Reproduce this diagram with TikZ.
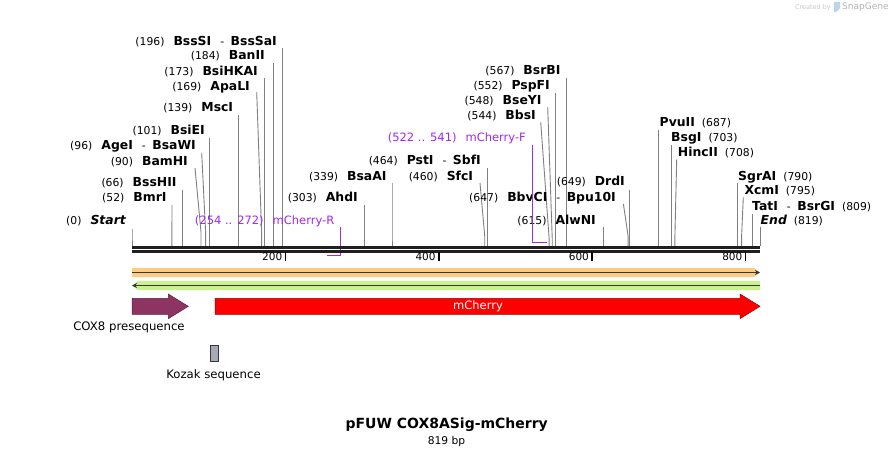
\documentclass[tikz,border=0pt]{standalone}
\usepackage{fontspec}
\setmainfont{DejaVu Sans}
\usetikzlibrary{arrows.meta}
\definecolor{prim}{RGB}{160,40,240}
\definecolor{orab}{RGB}{252,204,128}
\definecolor{grnb}{RGB}{200,242,140}
\definecolor{darkl}{RGB}{55,55,55}
\definecolor{cox}{RGB}{142,52,98}
\definecolor{coxd}{RGB}{90,30,60}
\definecolor{koz}{RGB}{165,170,182}
\definecolor{sitec}{RGB}{128,128,128}
\definecolor{wm}{RGB}{200,200,200}
\definecolor{wmb}{RGB}{185,212,240}
\newcommand\nm[1]{{\fontsize{12.4}{13}\selectfont\bfseries #1}}
\newcommand\nmi[1]{{\fontsize{12.4}{13}\selectfont\bfseries\itshape #1}}
\newcommand\gp{\hspace{9pt}}
\newcommand\gr{\hspace{7pt}}
\newcommand\dsh{\hspace{9pt}-\hspace{6.5pt}}
\newcommand\enz[9]{%
  \node[lbl,anchor=#2] (#1) at (#3,#4) {#5};
  \coordinate (#1t) at (#6,#7);
  \coordinate (#1k) at (#9,#8);
  \coordinate (#1b) at (#9,246);
  \draw[site] (#1t) -- (#1k) -- (#1b);
}
\begin{document}
\begin{tikzpicture}[x=1pt,y=-1pt,
  lbl/.style={inner sep=0pt, font=\fontsize{10.8}{12}\selectfont},
  site/.style={draw=sitec, line width=0.9pt},
  tick/.style={draw=black, line width=1.4pt},
  ticklbl/.style={inner sep=0pt, anchor=mid east, font=\fontsize{10.5}{12}\selectfont},
  primlbl/.style={inner sep=0pt, text=prim, font=\fontsize{11.5}{13}\selectfont},
  primline/.style={draw=prim, line width=1.6pt},
  featlbl/.style={inner sep=0pt, font=\fontsize{11.7}{13}\selectfont}]
\useasboundingbox (0,0) rectangle (893,456);
\fill[white] (0,0) rectangle (893,456);

% watermark
\node[inner sep=0pt, anchor=mid east, text=wm, font=\fontsize{6.5}{8}\selectfont] (wm1) at (831,7) {Created by};
\fill[wmb] (834,2) -- (840,2) -- (840,8) -- (836,12) -- (834,12) -- cycle;
\node[inner sep=0pt, anchor=mid west, text=wm!90!black, font=\fontsize{9}{10}\selectfont] (wm2) at (842,7) {SnapGene};

% enzyme sites
\enz{start}{mid east}{126}{221.5}{(0)\gp\nmi{Start}}{132}{229}{236}{132}
\enz{bmrI}{mid east}{166.7}{199}{(52)\gp\nm{BmrI}}{172}{205}{236}{171.9}
\enz{bssHII}{mid east}{176.7}{183.3}{(66)\gp\nm{BssHII}}{182.6}{190}{236}{182.6}
\enz{bamHI}{mid east}{188}{162.3}{(90)\gp\nm{BamHI}}{195}{168}{232}{201}
\enz{ageI}{mid east}{196}{146.7}{(96)\gp\nm{AgeI}\dsh\nm{BsaWI}}{201.7}{153}{232}{205.6}
\enz{bsiEI}{mid east}{205}{131.7}{(101)\gp\nm{BsiEI}}{209.4}{138}{236}{209.4}
\enz{mscI}{mid east}{233.3}{109}{(139)\gp\nm{MscI}}{238.6}{115}{236}{238.6}
\enz{apaLI}{mid east}{250}{87.3}{(169)\gp\nm{ApaLI}}{256.7}{92}{232}{261.6}
\enz{bsiHKAI}{mid east}{258}{72.3}{(173)\gp\nm{BsiHKAI}}{264.7}{78}{236}{264.7}
\enz{banII}{mid east}{265}{56.7}{(184)\gp\nm{BanII}}{273.1}{63}{236}{273.1}
\enz{bssSI}{mid east}{277}{42.3}{(196)\gp\nm{BssSI}\dsh\nm{BssSaI}}{282.3}{48}{236}{282.3}
\enz{ahdI}{mid east}{358}{198.3}{(303)\gp\nm{AhdI}}{364.3}{205}{236}{364.3}
\enz{bsaAI}{mid east}{386.7}{177.3}{(339)\gp\nm{BsaAI}}{392}{183}{236}{392}
\enz{sfcI}{mid east}{473.3}{177.3}{(460)\gp\nm{SfcI}}{480}{183}{236}{484.7}
\enz{pstI}{mid east}{481}{161.7}{(464)\gp\nm{PstI}\dsh\nm{SbfI}}{487.8}{168}{236}{487.8}
\enz{bbsI}{mid east}{536}{116.7}{(544)\gp\nm{BbsI}}{540.7}{122}{238}{549.1}
\enz{bseYI}{mid east}{541.7}{101.7}{(548)\gp\nm{BseYI}}{547.7}{107}{238}{552.2}
\enz{pspFI}{mid east}{550}{86.7}{(552)\gp\nm{PspFI}}{555.3}{93}{236}{555.3}
\enz{bsrBI}{mid east}{560.7}{71.7}{(567)\gp\nm{BsrBI}}{566.8}{78}{236}{566.8}
\enz{alwNI}{mid east}{596}{221.7}{(615)\gp\nm{AlwNI}}{603.6}{227}{236}{603.6}
\enz{bbvCI}{mid east}{616}{198.3}{(647)\gp\nm{BbvCI}\dsh\nm{Bpu10I}}{623.4}{204}{236}{628.1}
\enz{drdI}{mid east}{625}{182.7}{(649)\gp\nm{DrdI}}{629.6}{190}{236}{629.6}
\enz{pvuII}{mid west}{659.5}{124}{\nm{PvuII}\gr(687)}{658.8}{130}{236}{658.8}
\enz{bsgI}{mid west}{671}{139}{\nm{BsgI}\gr(703)}{671}{145}{236}{671}
\enz{hincII}{mid west}{677.7}{153.3}{\nm{HincII}\gr(708)}{676.7}{159.3}{236}{674.9}
\enz{sgrAI}{mid west}{738}{177.7}{\nm{SgrAI}\gr(790)}{737.8}{183}{236}{737.8}
\enz{xcmI}{mid west}{744.3}{191.7}{\nm{XcmI}\gr(795)}{743.3}{197.3}{236}{741.6}
\enz{tatI}{mid west}{752}{207.3}{\nm{TatI}\dsh\nm{BsrGI}\gr(809)}{752.4}{214}{236}{752.4}
\enz{end}{mid west}{760.5}{221.7}{\nmi{End}\gr(819)}{760}{227}{236}{760}

% primers
\node[primlbl, anchor=mid east] (pR) at (334.5,221.5) {(254 .. 272)\gp mCherry-R};
\coordinate (pRt) at (340.6,227);
\coordinate (pRc) at (340.6,255.5);
\coordinate (pRe) at (326.8,255.5);
\draw[primline] (pRt) -- (pRc) -- (pRe);
\node[primlbl, anchor=mid east] (pF) at (526,138.5) {(522 .. 541)\gp mCherry-F};
\coordinate (pFt) at (532.3,145);
\coordinate (pFc) at (532.3,242.5);
\coordinate (pFe) at (546.8,242.5);
\draw[primline] (pFt) -- (pFc) -- (pFe);

% sequence bar
\coordinate (b0) at (132,247.5);
\coordinate (b1) at (760,247.5);
\coordinate (c0) at (132,251.4);
\coordinate (c1) at (760,251.4);
\draw[line width=3.4pt, black!88] (b0) -- (b1);
\draw[line width=2.4pt, black!88] (c0) -- (c1);

% ruler
\foreach \v/\x in {200/285.4,400/438.8,600/592.1,800/745.5}{
  \coordinate (tk\v) at (\x,252);
  \coordinate (tkb\v) at (\x,261);
  \draw[tick] (tk\v) -- (tkb\v);
  \node[ticklbl] (tl\v) at (\x-3,257.5) {\v};
}

% orange (forward) strand
\coordinate (o0) at (132,272.5);
\coordinate (o1) at (760,272.5);
\fill[orab] (132,268) -- (754,268) -- (760,272.5) -- (754,277) -- (132,277) -- cycle;
\draw[darkl, line width=1.8pt, -{Stealth[length=5pt,width=5pt]}] (o0) -- (o1);

% green (reverse) strand
\coordinate (g0) at (132,285.5);
\coordinate (g1) at (760,285.5);
\fill[grnb] (760,281) -- (138,281) -- (132,285.5) -- (138,290) -- (760,290) -- cycle;
\draw[darkl, line width=1.8pt, -{Stealth[length=5pt,width=5pt]}] (g1) -- (g0);

% features
\draw[fill=cox, draw=coxd, line width=0.5pt] (132,298.3) -- (168.3,298.3) -- (168.3,294) -- (188.3,306.3) -- (168.3,318.7) -- (168.3,314.3) -- (132,314.3) -- cycle;
\node[featlbl] (coxl) at (129,327) {COX8 presequence};

\draw[fill=red, draw=red!60!black, line width=0.5pt] (215,298.3) -- (740,298.3) -- (740,294) -- (760,306.3) -- (740,318.7) -- (740,314.3) -- (215,314.3) -- cycle;
\node[featlbl, text=white, font=\fontsize{11.5}{13}\selectfont] (mch) at (478,306.3) {mCherry};

\draw[fill=koz, draw=darkl, line width=0.6pt] (210,345) rectangle (218.3,361.7);
\node[featlbl] (kozl) at (213.5,375) {Kozak sequence};

% title
\node[inner sep=0pt, font=\fontsize{14}{16}\selectfont\bfseries] (title) at (446.7,425) {pFUW COX8ASig-mCherry};
\node[inner sep=0pt, font=\fontsize{10.7}{12}\selectfont] (bp) at (446.5,441.5) {819 bp};
\end{tikzpicture}
\end{document}
